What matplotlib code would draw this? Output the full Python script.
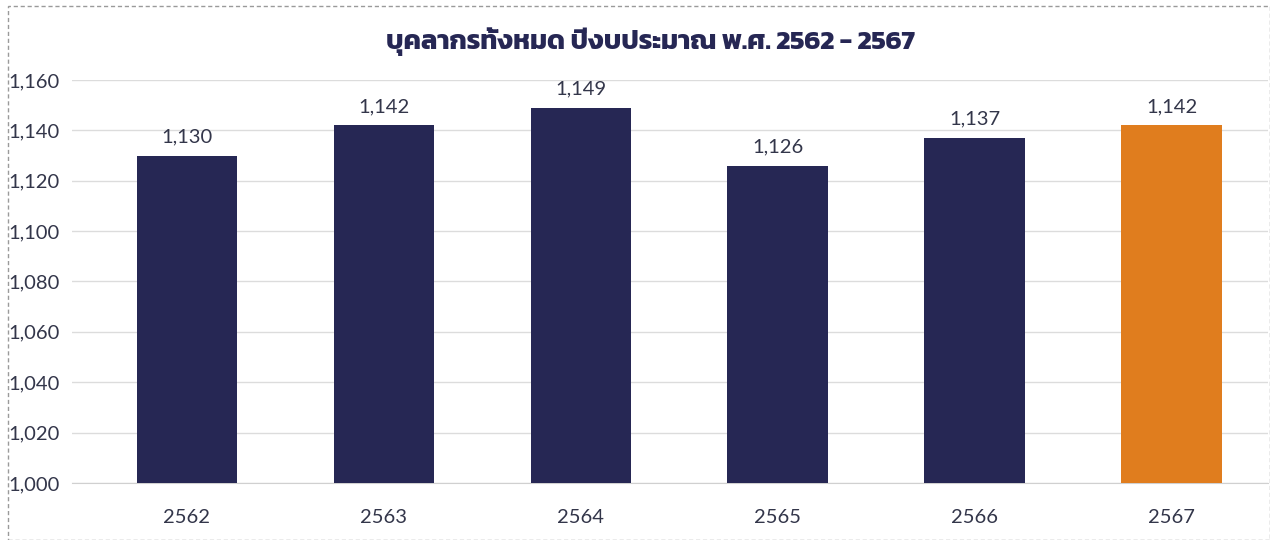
import matplotlib
matplotlib.use("Agg")
import matplotlib.pyplot as plt
from matplotlib import font_manager
from matplotlib.ft2font import FT2Font
from matplotlib.patches import Rectangle

# data
years = ["2562", "2563", "2564", "2565", "2566", "2567"]
staff = [1130, 1142, 1149, 1126, 1137, 1142]
title = "บุคลากรทั้งหมด ปีงบประมาณ พ.ศ. 2562 - 2567"

NAVY = "#262754"
ORANGE = "#E07D1E"
TEXT = "#33364a"

# look for any installed font that can draw Thai
thai_fonts = []
for f in font_manager.fontManager.ttflist:
    try:
        cmap = FT2Font(f.fname).get_charmap()
    except Exception:
        continue
    if 0x0E1A in cmap and 0x0E01 in cmap:
        thai_fonts.append(f)
thai_names = []
for f in sorted(thai_fonts, key=lambda f: f.weight if isinstance(f.weight, int) else 400, reverse=True):
    if f.name not in thai_names:
        thai_names.append(f.name)

base_fonts = ["Lato", "DejaVu Sans"]
plt.rcParams["font.family"] = base_fonts

fig = plt.figure(figsize=(12.7, 5.4), dpi=100)
ax = fig.add_axes([72 / 1270, 57 / 540, 1196 / 1270, 403 / 540])

x = list(range(len(years)))
colors = [NAVY] * (len(years) - 1) + [ORANGE]
ax.bar(x, [v - 1000 for v in staff], bottom=1000, width=0.51, color=colors, zorder=3)

for xi, v in zip(x, staff):
    ax.text(xi, v + 4, f"{v:,}", ha="center", va="bottom", fontsize=14.5,
            color=TEXT, zorder=4)

ax.set_ylim(1000, 1160)
ax.set_xlim(-0.584, 5.49)
ax.set_yticks(range(1000, 1161, 20))
ax.set_yticklabels([f"{t:,}" for t in range(1000, 1161, 20)], fontsize=14.5, color=TEXT)
ax.set_xticks(x)
ax.set_xticklabels(years, fontsize=14.5, color=TEXT)
ax.tick_params(axis="both", length=0)
ax.tick_params(axis="y", pad=9)
ax.tick_params(axis="x", pad=19)
ax.grid(axis="y", color="#dcdcdc", linewidth=1, zorder=0)
for s in ["top", "right", "left"]:
    ax.spines[s].set_visible(False)
ax.spines["bottom"].set_color("#d0d0d0")
ax.set_facecolor("none")

fig.text(650 / 1270, 1 - 42 / 540, title, ha="center", va="center", fontsize=19.5,
         fontweight="bold", color=NAVY, family=thai_names + base_fonts)

# dashed frame around the picture
fig.patches.append(Rectangle((8 / 1270, 0), 1262 / 1270, 1 - 6 / 540, transform=fig.transFigure,
                             fill=False, edgecolor="#9a9a9a", linestyle=(0, (3, 2)), linewidth=1))

fig.savefig("out.png", dpi=100)
